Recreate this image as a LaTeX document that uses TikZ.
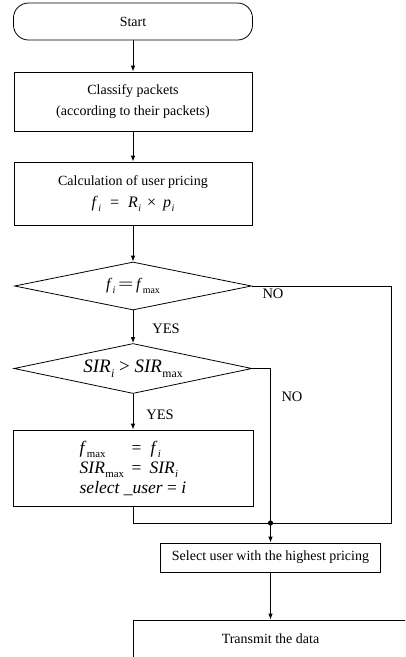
\documentclass[tikz,border=0pt]{standalone}
\usepackage{fontspec}
\setmainfont{Liberation Serif}
\usetikzlibrary{shapes.geometric,arrows.meta}

% italic symbol with a lowered, reduced subscript
\newcommand{\itsub}[2]{\textit{#1}\kern0.4pt\raisebox{-0.24em}{\scalebox{0.62}{#2}}}
\newcommand{\wideeq}{\scalebox{1.7}[1]{=}}

\begin{document}
\begin{tikzpicture}[x=1pt,y=-1pt,
  flowline/.style={line width=0.8pt},
  arrowline/.style={flowline,-{Latex[length=6pt,width=4.5pt]}},
  procbox/.style={draw,flowline,rectangle,inner sep=0pt,align=center,
    font=\fontsize{14}{17}\selectfont},
  decision/.style={draw,flowline,diamond,aspect=4.8,inner sep=0pt},
  lbl/.style={inner sep=0pt,font=\fontsize{14.5}{17}\selectfont}]

\useasboundingbox (0,0) rectangle (405,657);
\clip (0,0) rectangle (405,657);

% main column
\node[procbox,rounded corners=15pt,minimum width=239pt,minimum height=37pt]
  (start) at (133,21.5) {Start};
\node[procbox,minimum width=238pt,minimum height=59pt]
  (classify) at (133,101.5) {Classify packets\\[4pt](according to their packets)};
\node[procbox,minimum width=238pt,minimum height=63pt]
  (calc) at (133,193.5) {Calculation of user pricing\\[5pt]
  {\fontsize{16}{18}\selectfont\itsub{f}{\textit{i}}\hspace{9pt}=\hspace{9pt}\itsub{R}{\textit{i}}\hspace{6pt}×\hspace{7pt}\itsub{p}{\textit{i}}}};
\node[decision,minimum width=237pt,minimum height=48pt,font=\fontsize{16}{18}\selectfont]
  (d1) at (133,286) {\itsub{f}{\textit{i}}\,\wideeq\,\itsub{f}{max}};
\node[decision,minimum width=238pt,minimum height=50pt,font=\fontsize{19}{21}\selectfont]
  (d2) at (133,368.5) {\itsub{SIR}{\textit{i}}\ >\ \itsub{SIR}{max}};
\node[procbox,minimum width=240pt,minimum height=76pt,align=left,
  font=\fontsize{17.5}{19}\selectfont]
  (upd) at (133,468) {\makebox[52pt][l]{\itsub{f}{max}}=\hspace{9pt}\itsub{f}{\textit{i}}\\[1pt]
  \makebox[52pt][l]{\itsub{SIR}{max}}=\hspace{8pt}\itsub{SIR}{\textit{i}}\\[1pt]
  \textit{select \_user} = \textit{i}\hspace{2pt}};

% lower column
\node[procbox,minimum width=220pt,minimum height=29pt]
  (select) at (270.5,557.5) {Select user with the highest pricing};
\node[procbox,minimum width=275pt,minimum height=37pt]
  (transmit) at (270.5,638.5) {\raisebox{-1.5pt}{Transmit the data}};

% merge point and outer return line
\coordinate (junc) at (270.5,523);
\coordinate (outer) at (391,523);

% branch labels
\node[lbl] (no1) at (273,294) {NO};
\node[lbl] (yes1) at (166,329) {YES};
\node[lbl] (no2) at (292,397) {NO};
\node[lbl] (yes2) at (160,415) {YES};

% connectors
\draw[arrowline] (start) -- (classify);
\draw[arrowline] (classify) -- (calc);
\draw[arrowline] (calc) -- (d1);
\draw[arrowline] (d1) -- (d2);
\draw[arrowline] (d2) -- (upd);
\draw[flowline] (d1.east) -| (outer) -- (junc);
\draw[flowline] (d2.east) -| (junc);
\draw[flowline] (upd.south) |- (junc);
\fill (junc) circle (2.6pt);
\draw[arrowline] (junc) -- (select);
\draw[arrowline] (select) -- (transmit);

\end{tikzpicture}
\end{document}
